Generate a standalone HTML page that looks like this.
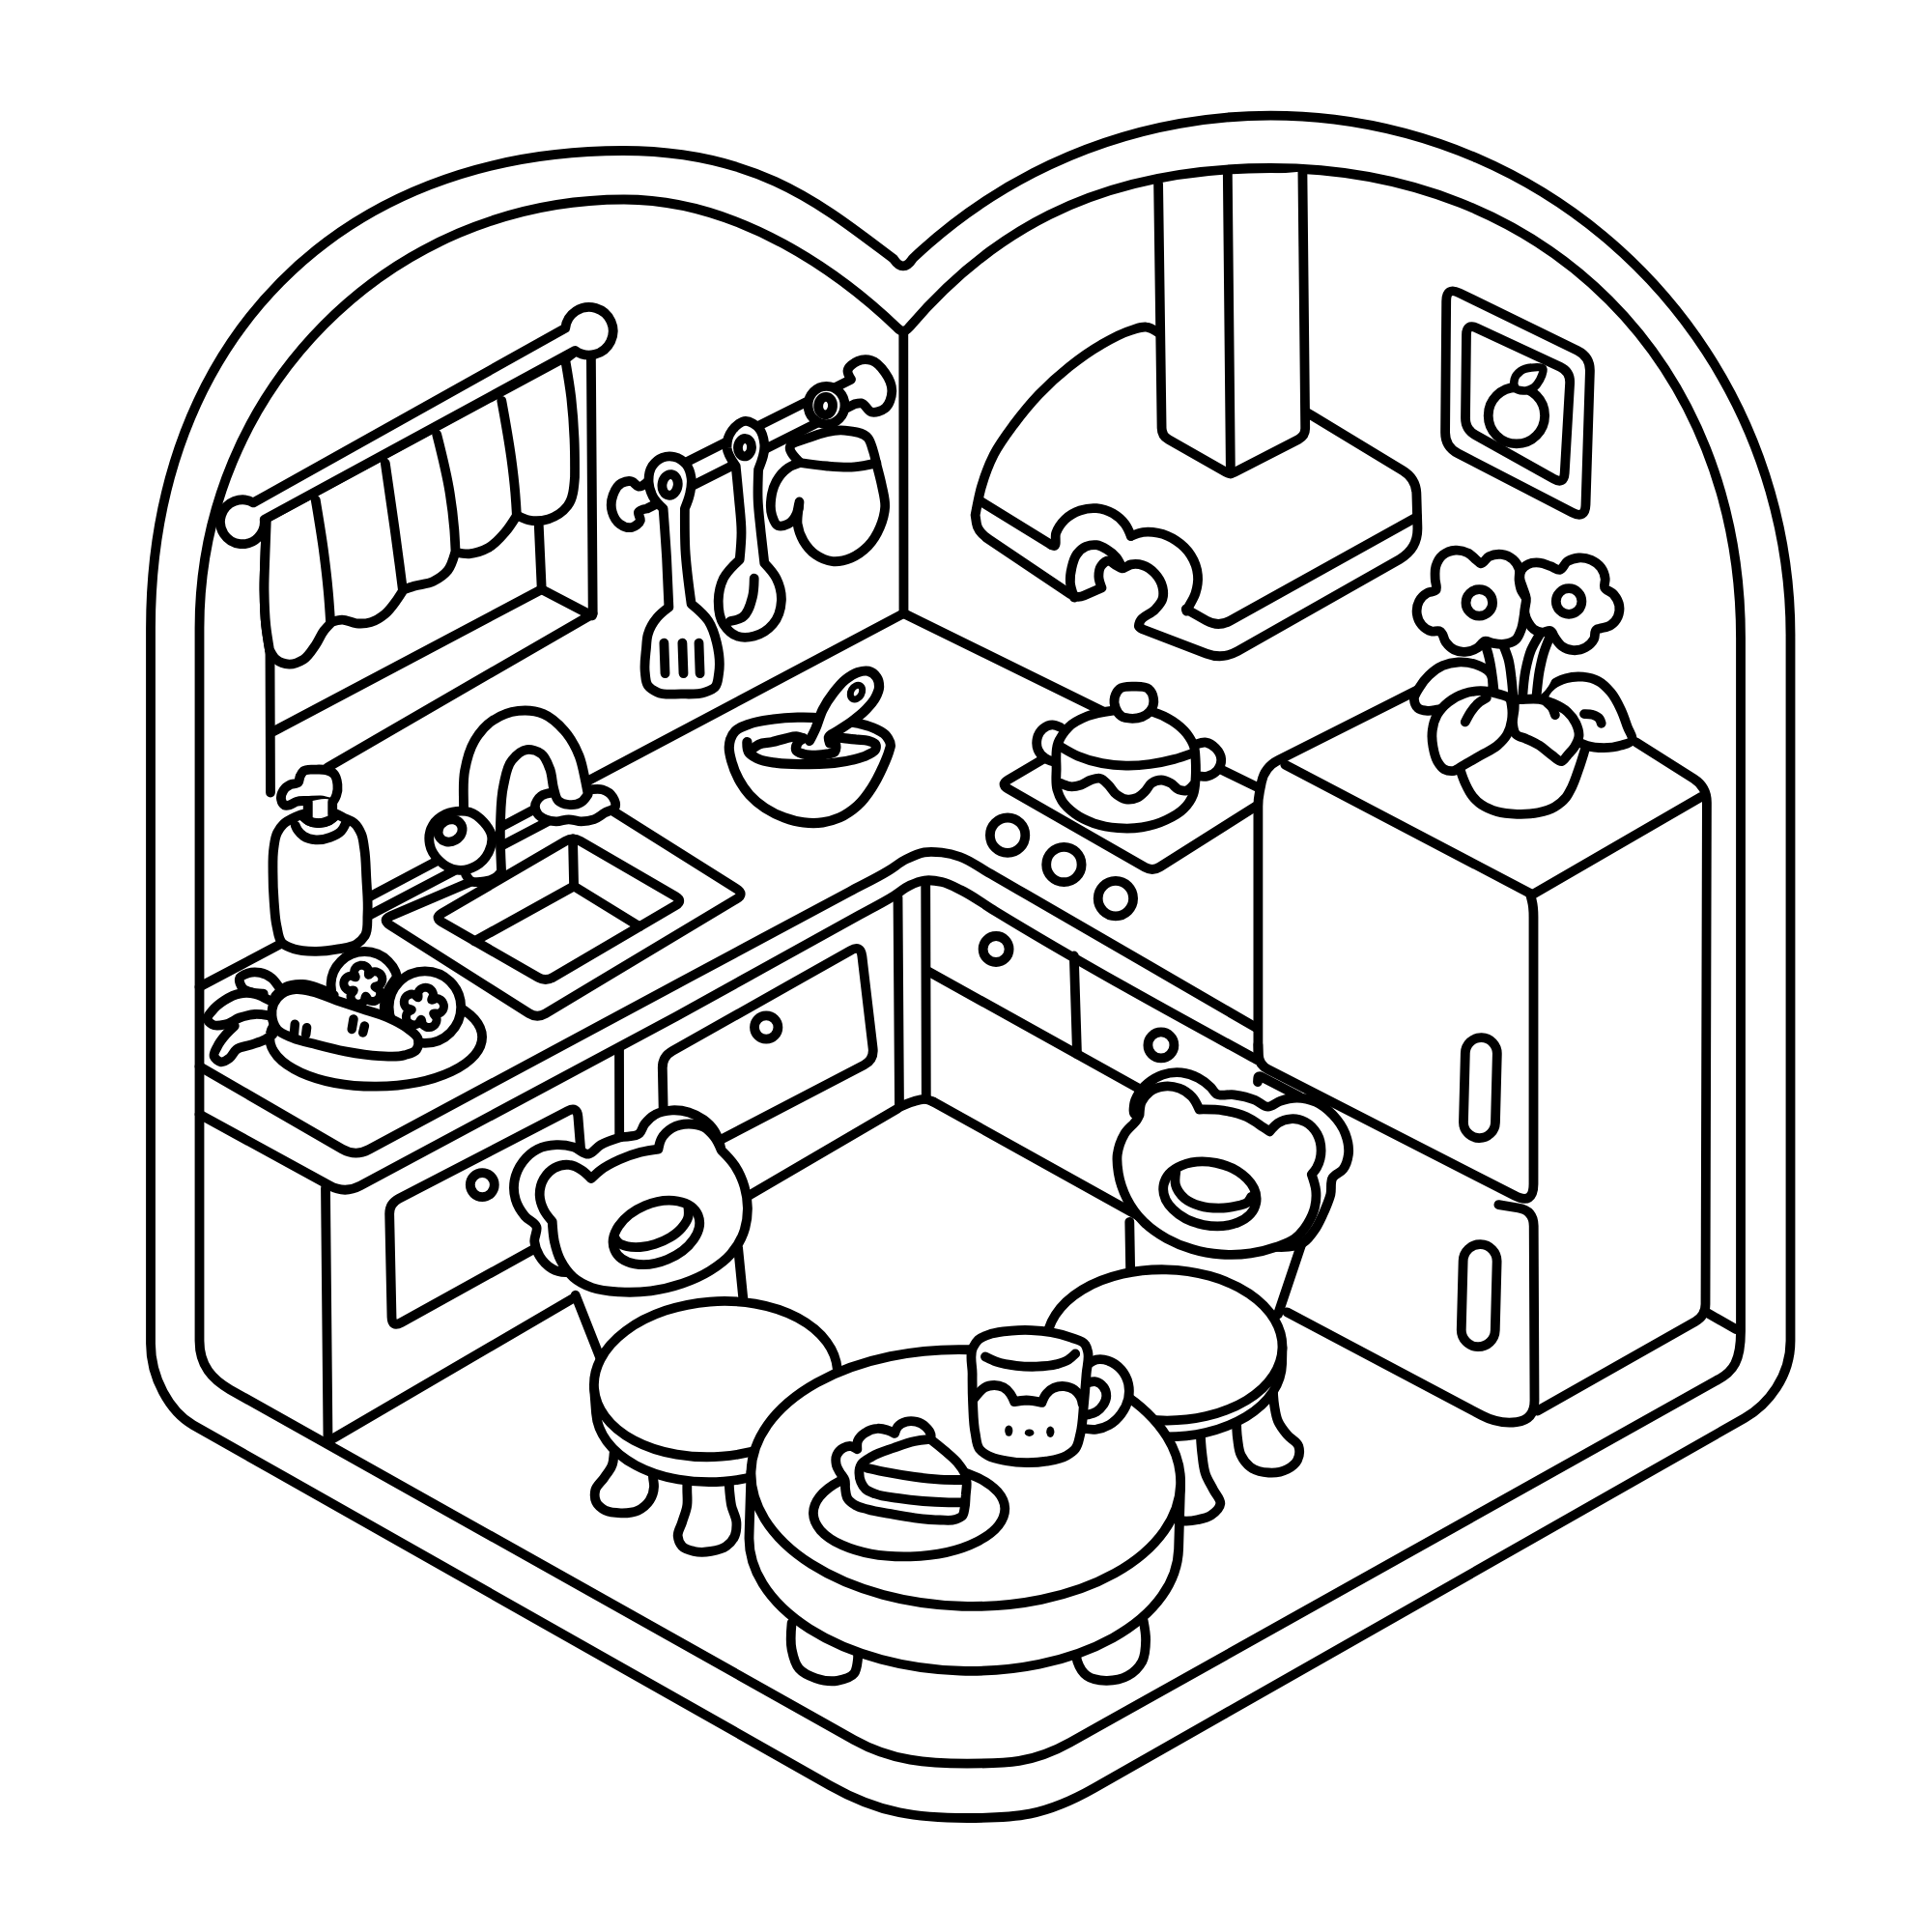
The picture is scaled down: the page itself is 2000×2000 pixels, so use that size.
<!DOCTYPE html>
<html><head><meta charset="utf-8"><title>Kitchen coloring page</title>
<style>html,body{margin:0;padding:0;background:#fff;}svg{display:block;}</style></head>
<body>
<svg xmlns="http://www.w3.org/2000/svg" width="2000" height="2000" viewBox="0 0 2000 2000">
<rect width="2000" height="2000" fill="#fff"/>
<g fill="none" stroke="#000" stroke-linecap="round" stroke-linejoin="round">
<path d="M156 650C156 353.6 351.6 156 645 156C785 156 853 214 925 268Q935 283 945 267.5A538 538 0 0 1 1853.5 660.5L1853.5 1388C1853.5 1425 1830.3 1454.2 1806 1468L1132.7 1851C1080.5 1880.7 1051 1882 1001 1882C951 1882 911.6 1878 859.4 1848.4L200 1475.2C175.6 1461.4 156 1426 156 1391Z" fill="#fff" stroke-width="9.8"/>
<path d="M206.5 650C206.5 405 403.3 206.5 646 206.5C766 206.5 871.4 284.3 929 339.5Q935.3 346 941 339C1019 247.8 1125.5 174 1315.5 174C1600.1 174 1802 375.9 1802 660.5L1802 1378C1802 1408 1795 1420 1777 1429L1107.8 1803.7C1068.6 1825.7 1041 1825.6 1001 1825.6C961 1825.6 923.4 1823.2 884.2 1801.2L238 1438.4C220 1428 206.5 1414 206.5 1388Z" fill="#fff" stroke-width="9.8"/>
<path d="M935.3 345L935.5 635" fill="none" stroke-width="9.8"/>
<path d="M935.5 635L206.5 1021.7" fill="none" stroke-width="9.8"/>
<path d="M935.5 635L1300 814.2" fill="none" stroke-width="9.8"/>
<path d="M275.8 538.5C275.3 550.1 274.9 561.7 274.5 573.3C274.1 585.7 273.4 598.1 273.5 610.6C273.7 623 273.9 635.5 275.3 647.8C276.2 656.1 277.6 664.4 279 672.7L279.5 677.6L280 820.5" fill="none" stroke-width="9.8"/>
<path d="M611.9 370.8L613.7 634.2" fill="none" stroke-width="9.8"/>
<path d="M557.8 544.7L560.7 609.3" fill="none" stroke-width="9.8"/>
<path d="M560.7 610.1L612.9 637.4" fill="none" stroke-width="9.8"/>
<path d="M560.7 610.1L283.2 757.1" fill="none" stroke-width="9.8"/>
<path d="M613.7 635.4L339.1 794.4" fill="none" stroke-width="9.8"/>
<path d="M274.5 537.3L593.8 365.1L585.1 372C587.4 385.3 589.7 398.5 591.3 411.8C592.9 425.8 593.9 439.9 594.5 454C595.1 467.3 595.1 480.5 595 493.8L595 493.8C594.2 504.9 593.4 516 587.6 523.6C583 529.6 575.1 534.9 567.7 537.3C561.6 539.2 554.2 539.8 547.8 538.5C543.6 537.6 539.5 535.6 535.4 533.5L534.2 534.8C530.7 540.4 527.2 546 523 550.9C517.9 556.9 512.3 563.3 505.6 567.1C499.7 570.4 492.5 572.8 485.7 573.3C481.2 573.6 476.6 572.8 472 572L470.8 573.3C469 579.6 467.1 585.9 463.4 590.7C459.6 595.4 453.9 599.2 448.4 601.9C442.4 604.8 435.1 604.9 428.6 606.8C424.8 608 421.1 609.3 417.4 610.6L417.4 611.1C415.4 614.2 413.4 617.4 411.2 620.5C407.4 625.7 403.7 631.3 398.8 635.4C394.4 639 389.2 642.5 383.9 644.1C379.2 645.5 373.8 645.7 368.9 645.3C363.9 644.9 359 641.5 354 641.6C350.3 641.7 346.6 642.9 342.9 644.1L342.9 644.6C340.3 647.2 337.6 649.9 335.4 652.8C331.9 657.3 330 663 326.7 667.7C323 673 319.5 679.3 314.3 682.6C310 685.3 304.3 687.7 299.4 687.6C294.8 687.5 289.3 685.6 285.7 682.6C282.8 680.2 280.9 676.4 279 672.7L279 672.7C277.6 664.4 276.2 656.1 275.3 647.8C273.9 635.5 273.7 623 273.5 610.6C273.4 598.1 274.1 585.7 274.5 573.3C274.9 561.7 275.3 550.1 275.8 538.5Z" fill="#fff" stroke-width="9.8"/>
<path d="M326.7 517.4C329.8 536 333 554.6 335.4 573.3C337 585.7 338.5 598.1 339.6 610.6C340.7 621.7 341.4 632.9 342.1 644.1" fill="none" stroke-width="9.8"/>
<path d="M398.8 479.4C402.1 502.4 405.5 525.4 408.7 548.4C410.4 560.9 412 573.3 413.7 585.7C414.8 594 415.8 602.3 416.9 610.6" fill="none" stroke-width="9.8"/>
<path d="M452.2 449.8C457.4 470.2 462.6 490.5 465.8 511.2C467.8 523.5 469.3 536 470.3 548.4C470.9 556.3 471.2 564.2 471.6 572" fill="none" stroke-width="9.8"/>
<path d="M519.3 414.8C522.9 434.4 526.5 454.1 529.2 473.9C530.9 486.3 532.4 498.7 533.4 511.2C534 518.6 534.5 526.1 534.9 533.5" fill="none" stroke-width="9.8"/>
<path d="M262.3 520.4A22.9 22.9 0 1 0 273.7 537.8L595.4 362.9A24.8 24.8 0 1 0 585.2 339.8Z" fill="#fff" stroke-width="9.8"/>
<path d="M670.7 498.4L881 392.8L881 392.8C879.2 389.7 877.3 386.6 877.5 384C877.8 379.9 883.8 375.6 888.1 373.8C892.1 372.1 898 371.9 902.1 373.1C907.8 374.7 912.7 380.7 916.2 385.8C920 391.2 923.5 398.7 923.3 405.1C923.1 411 920.7 419.2 916.2 422.7C912.8 425.4 906.3 427.6 902.1 426.6C898.1 425.6 895.8 418.1 891.6 417.4C889.4 417.1 887 417.7 884.5 418.3L884.5 418.3L669.8 526.5L669.8 526.5C666 527.2 662.1 527.9 661 530.1C660 532.1 663.5 536.4 662.8 538.9C661.9 542 657.2 545.1 654 545.9C650.3 546.8 644.9 544.7 641.7 542.4C637.9 539.7 635.1 534.5 633.8 530.1C632.2 524.7 632.7 517.7 634.6 512.5C636.3 507.9 639.3 502.3 643.4 500.1C646.4 498.6 650.8 497.5 654 498.4C656.6 499.1 658.6 503.3 661 503.7C664.1 504.1 667.4 501.2 670.7 498.4Z" fill="#fff" stroke-width="9.8"/>
<path d="M686.6 526.5C682.5 522.7 678.5 518.9 676 514.2C673.6 509.7 671.9 504.3 671.6 499.3C671.3 493.7 672.2 487.1 675.1 482.5C677.5 478.9 681.6 475.3 685.7 473.7C689.3 472.3 694.2 472 698 472.9C702.5 473.9 707.4 477.2 710.3 480.8C713.3 484.5 714.9 490 715.6 494.9C716.4 500.5 715.2 506.8 713.8 512.5C712.7 517.3 710.8 521.9 708.9 526.5L708.9 526.5C708.8 540.6 708.7 554.7 709.4 568.8C710.4 587.6 713 606.4 715.6 625.1L715.6 625.1C722.2 630.5 728.8 635.9 733.2 642.7C737.5 649.4 740.1 657.7 742 665.6C744.4 675.7 745.8 686.9 744.1 697.2C743.3 702 743.2 708 740.2 711.3C737.8 714 733.3 715.3 729.7 716.6C722 719.3 713.2 718.4 705 718.4C696.8 718.4 687.6 720.1 680.4 716.6C676.9 714.9 672.9 712.6 670.7 709.6C668.1 705.9 668.3 700.2 667.7 695.5C666.8 687.4 668.2 679 669 670.8C669.4 666.1 669.4 661.2 670.7 656.8C672.5 650.4 676.2 644.2 680.4 639.2C683.8 635.1 688.1 631.9 692.4 628.6L692.4 628.6C691.7 611.6 691 594.6 690.1 577.6C689.1 560.6 687.8 543.5 686.6 526.5Z" fill="#fff" stroke-width="9.8"/>
<ellipse cx="693.6" cy="501.9" rx="8.1" ry="10.9" transform="rotate(8 693.6 501.9)" fill="none" stroke-width="9.8"/>
<path d="M687.4 665.6L688.5 697.2" fill="none" stroke-width="9.8"/>
<path d="M706.4 665.6L707.5 697.2" fill="none" stroke-width="9.8"/>
<path d="M723.5 665.6L724.6 697.2" fill="none" stroke-width="9.8"/>
<path d="M761.7 482.5C757.3 476.2 752.9 469.8 752.5 463.2C752.3 457.5 754.4 450.2 757.8 445.6C761 441.3 767.1 436 771.9 435.9C776.5 435.8 782.8 440 786 443.8C789.3 447.8 790.7 454.3 791.3 459.7C792.2 468.3 788.7 477.2 785.1 486.1L785.1 486.1C784.7 496 784.3 506 784.6 516C784.9 527.7 786.6 539.5 787.7 551.2C788.8 561.7 790 572.3 791.3 582.9L791.3 582.9C796 587.9 800.7 592.8 803.6 598.7C807 605.5 809.2 614.1 808.9 621.6C808.5 629.9 805.4 639.9 800.1 646.2C795.4 651.8 787.8 656.7 780.7 658.5C775.2 659.9 768.3 660.4 763.1 658.5C757.6 656.5 752.3 651.2 749 646.2C744.6 639.5 743.6 629.8 743.7 621.6C743.9 613.9 745.7 605.5 749 598.7C752.7 591.3 759.2 585.3 765.7 579.3L765.7 579.3C766.6 569.9 767.5 560.6 767.5 551.2C767.5 539.4 765.9 527.7 764.9 516C763.9 504.8 762.8 493.7 761.7 482.5Z" fill="#fff" stroke-width="9.8"/>
<ellipse cx="771" cy="463.2" rx="7" ry="9.2" transform="rotate(5 771 463.2)" fill="none" stroke-width="9.8"/>
<path d="M780.7 598.7C780.6 605.3 780.6 611.9 778.9 618.1C777 625.5 774.5 635.2 768.4 639.2C765.1 641.4 760.6 642.2 756.1 643" fill="none" stroke-width="9.8"/>
<ellipse cx="855.5" cy="419.5" rx="19" ry="19.7" transform="rotate(0 855.5 419.5)" fill="#fff" stroke-width="9.8"/>
<ellipse cx="854.6" cy="420.1" rx="7.4" ry="9.2" transform="rotate(5 854.6 420.1)" fill="none" stroke-width="9.8"/>
<path d="M828.2 479C823.9 480.5 819.5 481.9 815.9 484.3C810.8 487.7 806.5 493 803.6 498.4C800.7 503.6 799 510 798.3 516C797.6 521.7 797.3 528.2 799.2 533.6C800.5 537.3 802.2 542.9 805.3 544.1C808.1 545.3 812.9 543.9 815.9 542.4C819.7 540.4 822.9 535.9 824.7 531.8C825.9 529.1 826.4 524.1 826.8 523C827.7 520.8 824.7 536.1 825.6 542.4C826.4 548.4 828.7 554.7 831.7 560C834.8 565.3 839.1 570.5 844.1 574.1C849.1 577.6 855.6 580.5 861.7 581.1C867.9 581.8 875.1 580 881 577.6C887.5 574.9 893.7 570.3 898.6 565.3C903.8 559.9 908 552.8 910.9 545.9C913.7 539.3 915.8 531.9 916.2 524.8C916.6 517.2 914.2 509.5 912.7 501.9C911.2 494.8 909.3 487.8 907.4 480.8L907.4 480.8C906.4 476 905.4 471.3 903.9 466.7C902.4 462.2 901.3 456.9 898.6 453.5C893.6 447.4 882.3 446.4 874 445.6C862.4 444.4 849.9 448.5 838.8 452.6C831.5 455.4 818.4 458 817.7 463.2C817.1 467.4 822.6 473.2 828.2 479Z" fill="#fff" stroke-width="9.8"/>
<path d="M828.2 479C837.6 480.4 847 481.8 856.4 482.5C865.7 483.3 875.2 484.2 884.5 483.4C892.2 482.8 899.8 481.1 907.4 479.4" fill="none" stroke-width="9.8"/>
<path d="M827.5 519.5L826.8 526.5" fill="none" stroke-width="9.8"/>
<path d="M1010.7 527.5C1012.2 519.7 1013.7 511.8 1015.9 504.2C1019.2 492.7 1023.4 481.2 1028.8 470.6C1034.5 459.6 1042.1 449.5 1049.5 439.5C1057.6 428.7 1066.1 418.2 1075.4 408.4C1085.1 398.3 1095.5 388.7 1106.5 380C1117.1 371.5 1128.3 363.4 1140.1 356.7C1150 351 1160.2 345.1 1171.2 341.9C1176.2 340.5 1181.7 337.9 1186.7 338.6C1191 339.1 1195 341.7 1199.1 344.3L1199.1 344.3L1345.3 422.8Q1352.3 426.6 1359.1 430.7L1452.3 487.2Q1466 495.5 1466.4 511.5L1467.4 546Q1468 568 1448.9 578.9L1281.3 674.1Q1265.6 683 1248.8 676.6L1183.2 651.5C1181.3 650.6 1179.4 649.8 1178.9 648.4C1178.4 647.1 1179.5 645 1180.1 643.4C1182.5 637.5 1191.3 635.9 1195.7 631C1198.6 627.7 1202.2 624.2 1203.4 620.1C1204.6 616.4 1204.3 611.6 1203.4 607.7C1202.3 602.7 1199.2 597.5 1195.7 593.7C1192.3 590.1 1187.8 586.6 1183.2 585.2C1179.4 584 1174.8 583.6 1170.8 584.4C1167.6 585 1164.5 588.7 1161.5 588.3C1159.4 588 1157.3 586.3 1155.3 585.2C1152.6 583.7 1150 580.5 1147.5 580.5C1144.9 580.6 1141.5 583.6 1139.8 586C1137.8 588.8 1137.4 593.2 1137.4 596.8C1137.5 600.7 1139 604.6 1140.5 608.5L1140.5 608.5L1122.2 616.5Q1114.9 619.7 1108.3 615.2L1023.7 558.4Q1012.1 550.6 1010.9 541.9L1009.6 533.2Z" fill="#fff" stroke-width="9.8"/>
<path d="M1467 535L1273.4 642.6Q1261.2 649.4 1249 642.5L1227.8 630.4" fill="none" stroke-width="9.8"/>
<path d="M1015.5 519.2L1088.5 564.2" fill="none" stroke-width="9.8"/>
<path d="M1088.5 564.2C1089.3 564.6 1090.2 564.9 1090.8 565C1094.5 565.5 1091.6 555.9 1093.2 551.8C1095.1 546.7 1098.6 541.6 1102.5 537.8C1106.7 533.7 1112.4 530.4 1118 528.5C1123.3 526.7 1129.5 525.7 1135.1 526.2C1140.9 526.7 1147.1 528.7 1152.2 531.6C1156.8 534.3 1161.4 538.2 1164.6 542.5C1167.3 546.1 1169.1 550.5 1170.8 554.9" fill="none" stroke-width="9.8"/>
<path d="M1170.8 554.9C1174.9 553.3 1179 551.6 1183.2 551C1188.3 550.3 1193.8 550.8 1198.8 551.8C1205.3 553.1 1211.9 555.9 1217.4 559.6C1223.4 563.5 1229.2 569 1232.9 575.1C1236.6 581 1239.3 588.4 1239.9 595.3C1240.5 601.4 1239.4 608 1237.6 613.9C1235.9 619.4 1232.4 624.3 1229.8 629.4C1229.3 630.5 1228.8 631.5 1228.3 632.5" fill="none" stroke-width="9.8"/>
<path d="M1112.1 618.6C1110.2 613.4 1108.3 608.3 1107.9 603C1107.5 597.9 1108.3 592.5 1109.5 587.5C1110.6 582.7 1112 577.4 1114.9 573.5C1117.3 570.4 1120.6 567.3 1124.2 565.8C1127.5 564.4 1131.6 563.8 1135.1 564.2C1138.9 564.7 1142.6 566.8 1146 568.9C1149.4 571 1152.7 573.6 1155.3 576.6C1157.9 579.8 1159.7 583.7 1161.5 587.5" fill="none" stroke-width="9.8"/>
<path d="M1199.1 190.5L1202.6 443.1Q1202.7 451.1 1209.7 455.1L1269 488.8Q1273.4 491.3 1277.8 489L1344.2 454.8Q1351.3 451.1 1351.2 443.1L1348.4 177.6Z" fill="#fff" stroke="none"/>
<path d="M1199.1 190.5L1202.6 443.1Q1202.7 451.1 1209.7 455.1L1269 488.8Q1273.4 491.3 1277.8 489L1344.2 454.8Q1351.3 451.1 1351.2 443.1L1348.4 177.6" fill="none" stroke-width="9.8"/>
<path d="M1270.8 178.6L1273.9 490.5" fill="none" stroke-width="9.8"/>
<path d="M1497.2 311.7Q1497.3 296.7 1510.8 303.3L1632.9 362.8Q1646.3 369.4 1645.9 384.4L1641.5 522.5Q1641 537.5 1627.7 530.6L1509.3 469.4Q1496 462.5 1496.1 447.5Z" fill="none" stroke-width="9.8"/>
<path d="M1518 346.6Q1518.1 334.6 1529 339.7L1615 379.8Q1625.8 384.9 1625.1 396.9L1619.7 489.7Q1619 501.7 1608.5 495.8L1527.4 450.4Q1516.9 444.5 1517 432.5Z" fill="none" stroke-width="9.8"/>
<circle cx="1569.9" cy="430.2" r="29.2" fill="none" stroke-width="9.8"/>
<path d="M1568.7 401.7C1567.1 399.6 1567.1 395.2 1567.8 392.4C1568.7 389.2 1571.6 386 1574.3 384C1577.3 381.9 1581.7 381 1585.5 380.6C1589.3 380.1 1595.8 379.5 1597.3 381.6C1598.7 383.6 1595.9 389.5 1594.2 393C1592.6 395.9 1590.6 399.1 1588 401.1C1585.5 402.8 1582.2 404.2 1579.3 404.4C1575.8 404.7 1570.5 404 1568.7 401.7Z" fill="#fff" stroke-width="8.5"/>
<path d="M206.5 1104L354.2 1189.5Q368 1197.5 382.1 1189.9L700 1019.1C760 987 820 954.8 880 922.7C893.2 915.6 906.8 909.3 919.5 901.5C925.8 897.7 931.5 892.8 938 889.5C944 886.5 950.3 883.4 956.8 882.3C962.7 881.3 969 881.8 975 882.5C981.4 883.3 987.8 884.9 993.8 887C1004.2 890.6 1013.3 897.7 1023 903.2C1035.4 910.2 1047.7 917.4 1060 924.6C1140.7 971.2 1221.4 1018 1302 1064.8" fill="none" stroke-width="9.8"/>
<path d="M206.5 1153.5L341.2 1227.3Q357 1236 372.9 1227.5L700 1052.2C763.4 1017.2 826.7 982.2 890 947C901.7 940.6 913.7 934.6 925 927.6C930.8 924 935.9 919.3 942 916.5C946.7 914.3 951.9 912.2 957 911.5C962.8 910.7 969.2 911.7 975 913C982 914.6 988.5 918.3 995 921.5C1007.3 927.5 1018.3 935.9 1030 943.1C1119 997.4 1210.5 1047.4 1302 1097.5" fill="none" stroke-width="9.8"/>
<path d="M337 1230L339.5 1491" fill="none" stroke-width="9.8"/>
<path d="M339.5 1492.3L929 1147.8" fill="none" stroke-width="9.8"/>
<path d="M965.8 1140.4L1300 1326.4" fill="none" stroke-width="9.8"/>
<path d="M929.5 929L931 1146" fill="none" stroke-width="9.8"/>
<path d="M958.2 913L958.8 1138" fill="none" stroke-width="9.8"/>
<path d="M931 1146C935.6 1143.9 940.2 1141.8 945 1140.5C949.5 1139.2 954.3 1137.3 958.8 1138C961.2 1138.4 963.5 1139.4 965.8 1140.4" fill="none" stroke-width="9.8"/>
<path d="M403.2 1257Q403 1246 412.8 1240.9L587.7 1150.1Q597.5 1145 598.4 1156L606.1 1252Q607 1263 597.4 1268.3L415.3 1369.1Q405.7 1374.4 405.5 1363.4Z" fill="none" stroke-width="9.8"/>
<circle cx="499.3" cy="1226.6" r="12.5" fill="none" stroke-width="9.8"/>
<path d="M685.8 1106Q685.5 1094 696 1088.1L880.5 983.9Q891 978 892.4 989.9L903.6 1085.1Q905 1097 894.4 1102.5L698.6 1204.5Q688 1210 687.7 1198Z" fill="none" stroke-width="9.8"/>
<circle cx="793.2" cy="1063.5" r="12.2" fill="none" stroke-width="9.8"/>
<path d="M641 1084.9L641.5 1314.8" fill="none" stroke-width="9.8"/>
<path d="M959 1004.5L1300 1194.3" fill="none" stroke-width="9.8"/>
<path d="M1111.8 989.5L1115 1091.3" fill="none" stroke-width="9.8"/>
<circle cx="1031.1" cy="982.5" r="13.5" fill="none" stroke-width="9.8"/>
<circle cx="1201.9" cy="1081.9" r="13.5" fill="none" stroke-width="9.8"/>
<path d="M494 910L404.4 948.3Q395.2 952.2 403.6 957.6L547.6 1049Q556.1 1054.3 564.7 1049.2L762.4 930.6Q771 925.5 762.5 920.2L632 838" fill="none" stroke-width="9.8"/>
<path d="M457.4 954.5Q449.6 950 457.3 945.5L585.3 870.8Q593 866.3 600.8 870.8L699.4 928.1Q707.2 932.6 699.4 937.2L572.5 1011.7Q564.8 1016.3 557 1011.8Z" fill="none" stroke-width="9.8"/>
<path d="M593 868.5L594.1 917.4" fill="none" stroke-width="9.8"/>
<path d="M594.1 917.4L491.3 974.3" fill="none" stroke-width="9.8"/>
<path d="M594.1 917.4L662 959.1" fill="none" stroke-width="9.8"/>
<path d="M1152.4 743.1L1043.4 807.4Q1035.6 812 1043.4 816.5L1185.2 897.8Q1193 902.3 1200.6 897.5L1304.8 831.6" fill="none" stroke-width="9.8"/>
<circle cx="1043.1" cy="864.7" r="18.2" fill="none" stroke-width="9.8"/>
<circle cx="1101.4" cy="895" r="18.2" fill="none" stroke-width="9.8"/>
<circle cx="1154.9" cy="930.1" r="18.2" fill="none" stroke-width="9.8"/>
<path d="M383 947.1L566 851" fill="none" stroke-width="9.8"/>
<path d="M293.3 853.2C290.8 855.6 288.7 858.7 287.1 861.9C284.6 866.7 284.2 872.6 283.4 878C282.1 886.2 282.5 894.6 282.5 902.9C282.5 913.2 282.9 923.6 283.7 933.9C284.4 942.2 284.6 950.7 286.5 958.8C287.8 964.7 288.2 972.1 292 976.1C295 979.2 300.2 980.9 304.5 982.4C311.1 984.6 318.5 984.7 325.6 984.8C333.9 985 342.3 983.9 350.4 982.4C356.7 981.1 363.9 980.8 369.1 977.4C372.4 975.2 375.7 972 377.8 968.7C381.5 962.6 380 953.8 380.5 946.3C381.3 934 379.9 921.5 379.3 909.1C378.7 898.7 378.8 888.2 377.1 878C376.3 873 376 867.7 374 863.1C372.3 859.1 369.9 854.7 366.6 851.9C363.8 849.6 360 848.6 356.6 847C353.3 845.3 350.2 843.1 346.7 842C342 840.5 336.8 840.7 331.8 840.7C326.8 840.7 321.7 840.9 316.9 842C313.1 842.8 309.3 844.1 305.7 845.7C301.3 847.7 296.7 849.9 293.3 853.2Z" fill="#fff" stroke-width="9.8"/>
<path d="M305.7 854.4C306.4 856.1 307.2 857.9 308.2 859.4C309.8 861.8 312 864 314.4 865.6C317.9 867.9 322.6 869 326.8 869.3C331.7 869.7 337.1 868.5 341.7 866.8C345.7 865.4 350 863.6 352.9 860.6C355.2 858.3 356.7 855.1 358.1 851.9" fill="none" stroke-width="9.8"/>
<path d="M314.4 845.7C316 847.2 317.6 848.7 319.4 849.7C322.3 851.3 326 852.1 329.3 852.2C333 852.3 337.2 851.4 340.5 849.7C342.7 848.5 344.7 846.8 346.7 845.1" fill="#fff" stroke-width="9.8"/>
<path d="M294.5 833.5C292.8 832.7 291.5 829.8 291.1 827.7C290.4 824.8 291.7 821 293.3 818.4C294.9 815.8 297.9 813.6 300.7 812.2C303.2 810.9 307.2 811.8 308.8 809.9C310.1 808.5 309.7 805.5 310.7 803.5C311.6 801.5 312.8 799.4 314.4 798.1C317.1 796 321.8 796.8 325.6 796.6C329.7 796.5 334.1 796.1 338 797.3C340.7 798.1 343.8 799.3 345.7 801.2C348.2 803.8 349 808.4 349.4 812.2C349.8 815.8 349.5 819.9 348.2 823.4C347.4 825.5 346.2 828.3 344.6 829.6C341.7 831.8 336.1 828.4 331.8 828.3C327.3 828.2 322.7 828.7 318.1 828.9C314.4 829.2 310.4 828.7 307 829.8C304.6 830.6 302.6 832.7 300.1 833.3C298.3 833.7 296 834.2 294.5 833.5Z" fill="#fff" stroke-width="9.8"/>
<path d="M318.8 829.6L318.8 847" fill="none" stroke-width="9.8"/>
<path d="M318.8 830.2C330.1 827.4 341.3 824.6 344.2 830.2C345.7 833.1 346.4 840.7 344.2 843.2C342.1 845.7 336 845.1 331.8 845.7C327.5 846.4 323.1 846.7 318.8 847Z" fill="#fff" stroke="none"/>
<path d="M318.8 829.9L318.8 847" fill="none" stroke-width="9.8"/>
<path d="M344.2 829.9L344.2 843" fill="none" stroke-width="9.8"/>
<path d="M314.4 845.7C316 847.2 317.6 848.7 319.4 849.7C322.3 851.3 326 852.1 329.3 852.2C333 852.3 337.2 851.4 340.5 849.7C342.7 848.5 344.7 846.8 346.7 845.1" fill="none" stroke-width="9.8"/>
<path d="M553.9 834.8C553.9 830.9 557.3 826.3 560.4 823.9C563.3 821.8 567.6 821.2 571.3 820.7C577 819.8 582.9 822 588.7 821.7C596 821.4 603.1 817.9 610.4 817.4C614.8 817.1 619.5 816.2 623.5 817.4C627.5 818.6 632.1 821.5 634.3 825C636 827.7 637.7 832.2 637 834.8C636 838.2 629.4 839.4 625.7 841.7C622 843.9 618.7 846.8 614.8 848.3C610.7 849.8 606.1 850.4 601.7 850.4C597.4 850.4 593 848.3 588.7 848.3C584.3 848.3 580 850.6 575.7 850.4C572 850.3 568.1 849.7 564.8 848.3C561.6 846.8 557.9 844.7 556.1 841.7C554.9 839.8 553.9 837 553.9 834.8Z" fill="#fff" stroke-width="9.8"/>
<path d="M482.2 905.4C481.5 894.9 480.8 884.4 480.4 873.9C480 860.9 479.9 847.8 480 834.8C480.1 822.5 478.9 809.8 481.1 797.8C483 787.4 485.6 776.4 490.9 767.4C495.7 759.2 502.6 750.9 510.4 745.7C517.9 740.6 527.6 736.9 536.5 735.9C545 734.9 554.8 735.9 562.6 739.1C570.9 742.5 578.3 749.7 584.3 756.5C590.9 764 595.9 773.3 599.6 782.6C602.8 790.9 604.2 799.9 606.1 808.7C607 813.2 607.9 817.7 608.7 822.2L608.7 822.2C606.6 825.4 604.6 828.6 601.7 830.4C598.2 832.7 592.9 833.5 588.7 833C585 832.6 580.4 831.2 577.8 828.7C575.2 826.1 574.7 821.2 573.5 817.4C571.3 810.4 571.8 802.4 569.1 795.7C567 790.3 564.8 783.7 560.4 780.4C556.5 777.5 549.9 775.5 545.2 776.1C539.6 776.8 533.8 782.4 530 787C524.4 793.6 523.3 804.2 521.3 813C518.4 825.7 518.5 839.1 518 852.2C517.4 868.8 518.3 885.5 519.1 902.2L519.1 902.2C517.8 903.9 516.4 905.6 514.8 907C511.2 909.9 506.3 911.6 501.7 912.4C496.9 913.2 490.2 914.2 486.5 911.3C484.8 909.9 483.5 907.7 482.2 905.4Z" fill="#fff" stroke-width="9.8"/>
<path d="M478 839.7C480.8 839.8 483.7 840 486.3 840.7C491.8 842.3 496.9 846.8 500.7 851.1C504.3 855.1 508.1 860.4 509 865.5C509.9 870.7 508.2 877.2 505.9 882.1C503.2 887.8 498 893.5 492.5 896.6C487.2 899.6 479.8 901.3 473.8 900.7C466.9 900 459.2 895.4 454.2 890.4C449.9 886.1 445.9 879.7 444.8 873.8C443.7 867.7 444.8 859.5 448 854.2C450.8 849.5 456.3 845.2 461.4 842.8C466.3 840.5 472.4 839.6 478 839.7Z" fill="#fff" stroke-width="9.8"/>
<ellipse cx="466.1" cy="859.9" rx="12.9" ry="11.2" transform="rotate(-30 466.1 859.9)" fill="none" stroke-width="9.8"/>
<ellipse cx="389.2" cy="1074.3" rx="109.9" ry="50.3" transform="rotate(-0.4 389.2 1074.3)" fill="#fff" stroke-width="9.8"/>
<circle cx="377.4" cy="1019.8" r="34.8" fill="#fff" stroke-width="9.8"/>
<circle cx="439.9" cy="1042.6" r="37.3" fill="#fff" stroke-width="9.8"/>
<path d="M410 1012.7C406.1 1017.8 402.3 1022.8 400.3 1028.6C398.4 1034 397.3 1040.4 398 1046.1C398.6 1050.3 400.3 1054.4 402.1 1058.5" fill="none" stroke-width="9.8"/>
<path d="M372.9 999.3C374 999.1 375.2 999.2 376.2 999.4C377.2 999.7 378.3 1000.2 379.2 1000.9C380.1 1001.6 381 1002.7 381.4 1003.7C382.2 1005.3 380.8 1008.9 381.6 1009.3C382.4 1009.7 384.4 1006.4 386.2 1006C387.3 1005.8 388.6 1005.8 389.8 1006C390.8 1006.3 391.9 1006.8 392.8 1007.5C393.6 1008.2 394.4 1009.1 394.9 1010C395.4 1010.9 395.7 1012.1 395.8 1013.1C395.9 1014.2 395.7 1015.4 395.3 1016.4C394.9 1017.5 394.1 1018.7 393.3 1019.5C392 1020.7 388.2 1020.5 388 1021.4C387.9 1022.2 391.6 1023.1 392.6 1024.7C393.2 1025.6 393.6 1026.9 393.7 1028.1C393.7 1029.2 393.6 1030.4 393.2 1031.4C392.8 1032.4 392.2 1033.4 391.5 1034.2C390.7 1034.9 389.8 1035.6 388.8 1036C387.8 1036.4 386.6 1036.6 385.5 1036.6C384.3 1036.5 383 1036.2 382 1035.6C380.5 1034.7 379.4 1031 378.6 1031.2C377.7 1031.3 378 1035.2 376.8 1036.5C376.1 1037.4 375 1038.2 373.9 1038.6C372.9 1039 371.7 1039.2 370.6 1039.2C369.5 1039.2 368.4 1038.9 367.4 1038.4C366.5 1038 365.6 1037.2 364.9 1036.4C364.2 1035.6 363.6 1034.5 363.3 1033.5C363 1032.3 362.9 1031 363.2 1029.8C363.5 1028.1 366.7 1026 366.3 1025.2C365.9 1024.4 362.3 1025.9 360.7 1025.2C359.6 1024.8 358.5 1024 357.8 1023.1C357.1 1022.2 356.5 1021.2 356.2 1020.1C355.9 1019.1 355.8 1017.9 356 1016.9C356.1 1015.8 356.5 1014.7 357.1 1013.8C357.7 1012.9 358.5 1012 359.4 1011.4C360.4 1010.7 361.7 1010.3 362.8 1010.1C364.6 1009.9 367.6 1012.3 368.2 1011.7C368.8 1011.1 366.3 1008.1 366.5 1006.4C366.5 1005.2 367 1003.9 367.6 1002.9C368.2 1002 369 1001.1 369.9 1000.5C370.8 999.9 371.9 999.5 372.9 999.3Z" fill="none" stroke-width="9"/>
<path d="M441.9 1022.4C442.9 1022.6 444.1 1023 445 1023.6C445.9 1024.3 446.8 1025.2 447.4 1026.1C448 1027.2 448.5 1028.5 448.6 1029.7C448.7 1031.5 446.1 1034.5 446.7 1035.2C447.4 1035.8 450.5 1033.4 452.3 1033.6C453.5 1033.7 454.8 1034.2 455.8 1034.9C456.8 1035.5 457.6 1036.4 458.2 1037.4C458.8 1038.3 459.2 1039.4 459.4 1040.5C459.6 1041.6 459.5 1042.8 459.2 1043.9C458.9 1045 458.3 1046.1 457.5 1046.9C456.7 1047.9 455.6 1048.7 454.5 1049.1C452.8 1049.8 449.1 1048.3 448.7 1049.1C448.3 1049.9 451.6 1052.1 452 1053.9C452.2 1055.1 452.1 1056.5 451.8 1057.7C451.5 1058.8 450.9 1059.9 450.2 1060.7C449.5 1061.6 448.5 1062.3 447.5 1062.8C446.6 1063.3 445.4 1063.6 444.3 1063.6C443.2 1063.7 441.9 1063.4 440.9 1063C439.8 1062.5 438.6 1061.7 437.8 1060.8C436.6 1059.4 436.9 1055.5 436.1 1055.3C435.2 1055.1 434.1 1059 432.5 1059.9C431.5 1060.5 430.1 1060.8 428.9 1060.9C427.8 1060.9 426.5 1060.7 425.5 1060.3C424.5 1059.9 423.5 1059.2 422.7 1058.4C421.9 1057.6 421.3 1056.6 420.9 1055.6C420.5 1054.5 420.4 1053.3 420.4 1052.1C420.5 1050.9 421 1049.6 421.6 1048.6C422.6 1047 426.4 1046.1 426.3 1045.2C426.2 1044.3 422.2 1044.4 420.8 1043.2C419.9 1042.4 419.2 1041.2 418.7 1040.1C418.4 1039 418.2 1037.8 418.3 1036.7C418.3 1035.6 418.7 1034.4 419.2 1033.4C419.7 1032.5 420.5 1031.5 421.3 1030.9C422.2 1030.2 423.4 1029.6 424.5 1029.3C425.6 1029.1 427.1 1029 428.2 1029.3C430 1029.8 432.1 1033.1 432.9 1032.8C433.7 1032.4 432.3 1028.6 433.1 1027C433.6 1025.9 434.4 1024.8 435.4 1024C436.3 1023.3 437.4 1022.8 438.5 1022.5C439.6 1022.2 440.8 1022.2 441.9 1022.4Z" fill="none" stroke-width="9"/>
<path d="M288.6 1021.5C286.4 1018.3 284.3 1015 281.5 1012.7C278.1 1009.9 273.5 1007.7 269.2 1006.9C265.3 1006.2 260.7 1006.2 256.9 1007.4C253.7 1008.5 249.1 1010.2 248.1 1012.7C247 1015.4 249.2 1020.8 251.6 1023.3C253.6 1025.4 257.4 1026.3 260.4 1027.1C264.3 1028.3 268.5 1028.4 272.7 1028.6" fill="#fff" stroke-width="9.8"/>
<path d="M278.9 1035.6C274 1032.8 269.1 1030.1 263.9 1028.9C258.9 1027.8 253.1 1027.6 248.1 1028.6C242.5 1029.6 237.1 1032.5 232.2 1035.6C227.7 1038.5 223.2 1041.9 219.9 1046.1C217.8 1048.8 214.1 1052.3 214.6 1054.9C215.1 1057 217.9 1059.4 219.9 1060.6C223.7 1062.8 229.5 1061.2 234 1060.2C239 1059.1 243.2 1055.2 248.1 1053.5C253.2 1051.8 258.6 1050.3 263.9 1050C268.9 1049.7 273.9 1050.6 278.9 1051.4" fill="#fff" stroke-width="9.8"/>
<path d="M242.8 1062C239.7 1064.8 236.7 1067.7 234 1070.8C230.7 1074.6 227.4 1078.6 225.2 1083.1C223.6 1086.4 220.6 1090.8 221.7 1093.7C222.5 1096 226.2 1098.9 228.7 1099.3C231.4 1099.7 235 1097.3 237.5 1095.4C240.5 1093.3 241.7 1088.9 244.6 1086.6C248.8 1083.3 255.2 1083.2 260.4 1081.3C265.1 1079.7 270.1 1078.5 274.5 1076.1C277.2 1074.6 279.8 1072.7 282.4 1070.8" fill="#fff" stroke-width="9.8"/>
<path d="M285 1031.2C288.3 1027.6 291.6 1023.9 295.6 1021.9C300.7 1019.2 307.4 1018.7 313.2 1018.9C319.1 1019.1 325.1 1021.3 330.8 1023.3C335.9 1025.1 340.8 1027.5 345.7 1030" fill="none" stroke-width="9.8"/>
<path d="M281.5 1051.4C281.2 1047.4 281.7 1042.8 283.3 1039.1C285 1035.1 288.4 1031 292.1 1028.6C296 1025.9 301.4 1024.6 306.1 1024.2C311.9 1023.6 318 1025.5 323.7 1026.8C332.2 1028.7 340.1 1032.7 348.4 1035.6C357.2 1038.6 366 1041.5 374.8 1044.4C383.6 1047.3 392.7 1049.4 401.2 1053.2C407.9 1056.2 414.8 1059.3 420.5 1063.7C425.1 1067.3 431.9 1071 432.9 1076.1C433.5 1079.2 432.9 1084 431.1 1086.6C428.9 1089.9 423 1091 418.8 1092.3C410.5 1094.8 401.1 1093.5 392.4 1093.1C380.6 1092.7 368.8 1090.6 357.2 1088.4C347.1 1086.5 337.2 1083.9 327.3 1081.3C319 1079.2 310.4 1077.7 302.6 1074.3C297.1 1071.9 290.3 1069.9 286.8 1065.5C283.8 1061.8 281.9 1056.3 281.5 1051.4Z" fill="#fff" stroke-width="9.8"/>
<path d="M305.3 1060.2L304.4 1070.8" fill="none" stroke-width="9.5"/>
<path d="M317.6 1063.7L316.7 1070.8" fill="none" stroke-width="9.5"/>
<path d="M366 1054.9L364.2 1065.5" fill="none" stroke-width="9.5"/>
<path d="M377.4 1062L375.7 1069" fill="none" stroke-width="9.5"/>
<path d="M756 765.7C757 762.5 758.8 759.3 761 757C764.6 753 770.7 751.4 775.9 749.5C783.7 746.6 792.4 745.7 800.7 744.5C809 743.4 817.3 742.9 825.6 742.7C833.9 742.5 842.2 742.7 850.4 743.3C858.7 743.9 867 745 875.3 746.4C880.7 747.3 886.1 748.1 891.4 749.5C896.5 750.8 901.7 752.1 906.3 754.5C910.3 756.5 914.9 758.5 917.5 761.9C919.7 764.7 922 768.4 921.9 771.9C921.8 773.5 921.1 775.2 920.6 776.8C918.9 782.8 916.3 788.6 913.8 794.2C910.5 801.5 907 808.7 902.6 815.3C898.3 822 893.5 828.7 887.7 834C882.2 838.9 875.8 843.4 869.1 846.4C863.6 848.8 857.6 850.5 851.7 851.4C845.2 852.3 838.3 852.2 831.8 851.4C825.1 850.6 818.3 848.7 811.9 846.4C805 843.9 798.2 840.5 792 836.5C786.2 832.6 780.6 828 775.9 822.8C771.6 818 767.8 812.4 764.7 806.6C761.6 800.8 759 794.4 757.3 788C756 783.2 754.5 778.1 754.8 773.1C754.9 770.6 755.3 768 756 765.7Z" fill="#fff" stroke-width="10.2"/>
<path d="M773.4 768.1C773.3 771.7 773.2 775.3 774.7 778.1C776.4 781.5 781 783.6 784.6 785.5C790.5 788.6 797.8 788.9 804.5 789.9C813.5 791.2 822.7 791 831.8 791.1C840.1 791.2 848.4 791.2 856.6 790.5C865 789.8 873.4 788.7 881.5 786.8C886.9 785.4 892.7 784.4 897.6 781.8C900.7 780.1 905.4 778.7 906.3 775.6C906.8 774.2 906.9 771.9 906.3 770.6C905.4 768.4 901.5 767.7 898.9 766.9C895.4 765.8 891.4 766 887.7 765.7C883.6 765.2 879.4 764.9 875.3 764.4C872.4 764 869.5 763.6 866.6 763.2" fill="none" stroke-width="10.2"/>
<path d="M778.4 775.6C780.8 773.7 783.2 771.8 785.8 770.6C790 768.7 795 769.2 799.5 768.1C804.1 767.1 808.6 765.4 813.2 764.4C817.3 763.6 821.5 762 825.6 762.5C827.7 762.8 829.7 763.6 831.8 764.4" fill="none" stroke-width="10.2"/>
<path d="M831.8 764.4C829.3 765.8 826.8 767.2 825.6 769.4C824.4 771.4 823.5 775 824.3 776.8C825.3 778.9 829.2 779.7 831.8 780.6C835.7 781.8 840.1 781.8 844.2 781.8C848.4 781.8 852.6 781.5 856.6 780.6C859.2 780 862.7 779.7 864.1 778.1C865.6 776.2 865.8 771.8 864.7 769.4C863.8 767.3 861.5 765.9 859.1 764.4" fill="none" stroke-width="10.2"/>
<path d="M838 766.9C840.2 762.8 842.3 758.7 844.2 754.5C847.1 748 848.5 740.9 851.7 734.6C854.8 728.5 858.7 722.6 862.9 717.2C866.6 712.4 870.5 707.3 875.3 703.5C879 700.6 883.2 697.5 887.7 696.1C891.2 695 895.5 693.9 898.9 694.8C902.1 695.7 905.7 698.3 907.6 701.1C909.4 703.7 910.1 707.7 910.1 711C910 714.8 908.1 718.7 906.3 722.2C904 726.8 900.1 730.8 896.4 734.6C891.9 739.2 886.7 743.2 881.5 747C876.7 750.6 871.5 753.5 866.6 757C863.7 759 858.5 760.2 857.9 763.2C857.5 764.9 858.3 767.2 859.1 769.4" fill="#fff" stroke-width="10.2"/>
<ellipse cx="886.5" cy="716.6" rx="5.6" ry="7.8" transform="rotate(30 886.5 716.6)" fill="none" stroke-width="7"/>
<path d="M1097.7 752.9C1094.9 751.6 1092.2 750.4 1089.4 750.4C1086.1 750.4 1082.1 752.3 1079.5 754.5C1076.7 756.9 1074.5 760.9 1073.7 764.5C1072.9 768.1 1073.1 772.6 1074.5 776.1C1075.8 779.2 1078.4 782.3 1081.2 784.3C1083.9 786.4 1087.5 787.5 1091.1 788.5" fill="#fff" stroke-width="9.8"/>
<path d="M1238.5 770.3C1241.9 769.2 1245.3 768.1 1248.4 768.6C1252 769.2 1255.8 771.8 1258.4 774.4C1261.3 777.4 1264 782 1264.2 786C1264.4 789.8 1262.5 794.7 1260 797.6C1257.7 800.3 1253.7 802.5 1250.1 803.4C1247 804.2 1243.6 803.8 1240.2 803.4" fill="#fff" stroke-width="9.8"/>
<path d="M1095.2 769.4C1097.5 763.5 1101.4 757.4 1106 752.9C1111.3 747.6 1118.9 744.1 1125.9 741.3C1134.2 737.9 1143.4 736.7 1152.4 735.5C1159.5 734.5 1166.8 733.5 1173.9 733.8C1180.6 734.2 1187.4 735.2 1193.8 737.1C1200.7 739.2 1207.7 742.3 1213.7 746.3C1219.1 749.9 1224.6 754.3 1228.6 759.5C1231.6 763.5 1234.5 768 1236 772.8C1237.5 777.4 1237.4 782.7 1237.7 787.7C1238 793.2 1238 798.7 1237.7 804.2C1237.3 810.3 1237.3 816.9 1235.2 822.4C1233.1 827.9 1229.4 833.2 1225.3 837.3C1220.3 842.4 1213.5 845.9 1207 848.9C1199.3 852.6 1190.7 855 1182.2 856.4C1174.1 857.7 1165.6 857.9 1157.3 857.2C1149 856.5 1140.4 855 1132.5 852.3C1125.6 849.8 1118.5 846.7 1112.6 842.3C1107.7 838.6 1102.6 834.3 1099.4 829.1C1097.2 825.6 1095.5 821.5 1094.4 817.5C1092.5 810.7 1093.5 803.1 1093.6 795.9C1093.6 787.1 1092.2 777.5 1095.2 769.4Z" fill="#fff" stroke-width="9.8"/>
<path d="M1097.7 772.8C1103.7 776.4 1109.6 780 1115.9 782.7C1123.8 786.1 1132.3 788.5 1140.8 790.1C1148.9 791.7 1157.3 792.5 1165.6 792.6C1173.9 792.8 1182.3 792.1 1190.5 791C1198.8 789.9 1207.2 788.2 1215.3 786C1222.2 784.2 1228.8 781.8 1235.5 779.4" fill="none" stroke-width="9.8"/>
<path d="M1097.7 810.8C1101 812.3 1104.3 813.8 1107.7 814.2C1111.4 814.6 1115.6 813.7 1119.3 812.5C1122.7 811.4 1125.7 808.6 1129.2 807.5C1132.4 806.5 1136.2 805.1 1139.1 805.9C1142.3 806.7 1144.9 810.1 1147.4 812.5C1150.5 815.5 1152.3 819.9 1155.7 822.4C1158.6 824.6 1162.1 826.8 1165.6 827.4C1169.3 828 1173.8 827.3 1177.2 825.8C1180.3 824.4 1183 821.6 1185.5 819.1C1188 816.6 1189.3 812.8 1192.1 810.8C1194.9 808.9 1198.8 807.5 1202.1 807.5C1205.4 807.5 1209 809.2 1212 810.8C1215.1 812.5 1217.1 816.3 1220.3 817.5C1222.8 818.4 1226.1 819 1228.6 818.3C1231.2 817.5 1233.4 815 1235.5 812.5" fill="none" stroke-width="9.8"/>
<path d="M1154 721.4C1154.8 718.4 1156.8 715 1159 713.1C1162.5 710.2 1168.9 710.6 1173.9 710.6C1178.9 710.6 1185.3 710.2 1188.8 713.1C1191.4 715.3 1193.6 719.6 1194.1 723.1C1194.8 727.3 1193.2 732.9 1190.5 736.3C1188.5 738.8 1185.2 740.9 1182.2 742.1C1179.2 743.3 1175.6 743.8 1172.3 743.8C1168.4 743.7 1163.7 743.4 1160.7 741.3C1158.1 739.5 1156 736 1154.9 733C1153.5 729.5 1153.1 725 1154 721.4Z" fill="#fff" stroke-width="9.8"/>
<path d="M1302.4 835.1Q1302.4 827.1 1303.8 819.2L1305.4 810.1Q1308 796.3 1320.3 789.7L1471.5 707.9Q1475 706 1478.7 707.4L1752.7 812.3Q1765.8 817.3 1765.8 831.3L1765.5 1350Q1765.5 1358 1763 1362.5L1763 1362.5Q1760.6 1367 1753.6 1370.9L1598.7 1456.6Q1591.7 1460.5 1583.9 1462.3L1573.6 1464.8Q1560 1468 1547.5 1461.8L1309.2 1343.6Q1302 1340 1302 1332Z" fill="#fff" stroke="none"/>
<path d="M1302.4 1092.6L1302.4 835.1Q1302.4 827.1 1304 819.2L1305.9 809.8Q1309.1 794.1 1323.4 786.9L1470 713" fill="none" stroke-width="9.8"/>
<path d="M1330.3 791.6L1584.1 924.9" fill="none" stroke-width="9.8"/>
<path d="M1586.1 926.3L1761.3 824.8" fill="none" stroke-width="9.8"/>
<path d="M1693.7 768.4L1753.4 806.2Q1766.9 814.8 1766.9 830.8L1765.5 1350Q1765.5 1362 1755.1 1367.9L1591.7 1460.5" fill="none" stroke-width="9.8"/>
<path d="M1765.5 1358L1797 1376" fill="none" stroke-width="9.8"/>
<path d="M1584.1 925.5L1585.8 932.2Q1587.5 938.9 1587.5 948.9L1587.5 1225.7Q1587.5 1247.7 1567.9 1237.7L1312.4 1106.9Q1303.5 1102.4 1302.9 1092.4L1302.4 1081.4" fill="none" stroke-width="9.8"/>
<path d="M1302 1120L1302.2 1116.5Q1302.5 1113 1306.1 1114.8L1345 1135" fill="none" stroke-width="9.8"/>
<path d="M1551.4 1247.1L1571.8 1250.5Q1587.6 1253.1 1587.7 1269.1L1588.5 1449.8Q1588.6 1469.8 1570 1472.1L1570 1472.1Q1551.4 1474.5 1533.8 1465.2L1332.4 1358.3" fill="none" stroke-width="9.8"/>
<rect x="1515.9" y="1074.1" width="33" height="104" rx="16.5" transform="rotate(1.5 1532.4 1126.1)" fill="#fff" stroke-width="9.8"/>
<rect x="1513.7" y="1288.2" width="35" height="106" rx="17.5" transform="rotate(1.5 1531.2 1341.2)" fill="#fff" stroke-width="9.8"/>
<path d="M1511 794.9C1512.7 800.3 1514.4 805.8 1516.8 810.9C1518.9 815.4 1521 820.1 1524.1 823.9C1526.9 827.5 1530.4 830.8 1534.2 833.3C1538.9 836.6 1544.6 838.7 1550.1 840.3C1556.6 842.1 1563.7 842.5 1570.4 842.8C1577.7 843 1585.1 842.8 1592.2 841.3C1598.1 840 1604.4 838.3 1609.6 835.2C1613.8 832.7 1618.1 829.3 1621.2 825.4C1623.5 822.4 1625.2 818.7 1627 815.2C1630 809.2 1632 802.7 1634.2 796.4C1636.6 789.7 1638.6 782.9 1640.7 776.1" fill="#fff" stroke-width="9.8"/>
<path d="M1542.2 696.4C1539.1 692.3 1532.4 689.5 1527 687.7C1521.5 685.9 1515.3 685.2 1509.6 685.5C1504.2 685.8 1498.5 687 1493.6 689.1C1488.3 691.4 1483.3 695.2 1479.1 699.3C1475.2 703 1471.7 707.6 1469 712.3C1466.9 716 1463.7 720 1463.9 723.9C1464.1 726.8 1465.5 730.6 1467.5 732.6C1469.8 734.8 1474.2 735.5 1477.7 735.8C1481.5 736.2 1485.4 734.8 1489.3 734.3C1497 733.3 1504.8 732.6 1512.5 731.2C1522.2 729.3 1536.7 730.3 1541.4 723.9C1545.8 718.1 1547 702.7 1542.2 696.4Z" fill="#fff" stroke-width="9.8"/>
<path d="M1598 721.7C1598.9 717.6 1603 712.6 1606.7 709.4C1610.6 706 1616.1 703.6 1621.2 702.2C1626.6 700.6 1632.8 700.2 1638.6 700.7C1643.9 701.2 1649.8 702.5 1654.5 705.1C1659.5 707.7 1663.8 712.3 1667.5 716.7C1671.8 721.7 1674.8 728 1677.7 734.1C1680.6 740.1 1682.6 746.6 1684.9 752.9C1686.5 757.3 1691 763.1 1689.6 766.2C1688.2 769.2 1681.8 770.4 1677.7 771.7C1672.2 773.5 1666.1 774.2 1660.3 774.2C1654.5 774.2 1648.4 773.8 1642.9 772C1637.8 770.4 1632.6 767.7 1628.4 764.5C1622.3 759.8 1618.5 752.1 1613.9 745.7C1608.3 737.9 1596.2 729.6 1598 721.7Z" fill="#fff" stroke-width="9.8"/>
<path d="M1640 739.1C1643 739.1 1646 739 1648.7 739.9C1651.3 740.7 1654.4 742 1655.9 744.2C1656.8 745.5 1657.3 747.2 1657.7 748.8" fill="none" stroke-width="9.8"/>
<path d="M1537.1 665.9C1544 665.7 1551 665.4 1555.9 667.4C1570.3 673 1578.6 716.3 1566.1 721C1561.6 722.7 1554.1 721.9 1546.5 721Z" fill="#fff" stroke="none"/>
<path d="M1593.6 657.2C1597.8 657 1602.1 656.7 1605.2 657.2C1623 660.4 1609.4 717.2 1590.7 721C1586.6 721.9 1581.4 721.4 1576.2 721Z" fill="#fff" stroke="none"/>
<path d="M1537.1 665.9C1538.7 670.7 1540.3 675.5 1541.4 680.4C1543.2 687.6 1544.1 694.9 1545.1 702.2C1545.8 707.5 1546.3 712.8 1546.8 718.1" fill="none" stroke-width="9.8"/>
<path d="M1555.9 667.4C1558.1 672.6 1560.3 677.9 1561.7 683.3C1563.3 689.5 1563.9 695.9 1564.6 702.2C1565.5 708.9 1565.9 715.7 1566.4 722.5" fill="none" stroke-width="9.8"/>
<path d="M1593.6 657.2C1590.4 662.4 1587.2 667.6 1584.9 673.2C1582.1 680.1 1580.6 687.6 1579.1 694.9C1577.4 703.7 1576.8 712.7 1576.2 721.7" fill="none" stroke-width="9.8"/>
<path d="M1605.2 657.2C1602.6 663.5 1599.9 669.7 1598 676.1C1596.1 682.2 1594.8 688.6 1593.6 694.9C1592.2 702.8 1591.5 710.8 1590.7 718.8" fill="none" stroke-width="9.8"/>
<path d="M1563.2 723.9C1561 720.2 1554.6 719.5 1550.1 718.1C1544.6 716.4 1538.6 715.2 1532.8 715.2C1527 715.2 1520.8 716.2 1515.4 718.1C1509.7 720 1504.1 723.1 1499.4 726.8C1494.9 730.4 1490.6 734.9 1487.8 739.9C1485.1 744.6 1483.5 750.4 1482.8 755.8C1482 761.5 1482.5 767.5 1483.5 773.2C1484.4 778.1 1485.4 783.4 1487.8 787.7C1489.7 790.9 1491.9 794.7 1495.1 796.4C1497.5 797.7 1501 798.3 1503.8 798.1C1507.9 797.8 1511.5 794.1 1515.4 792C1521.2 788.8 1527 785.3 1532.8 781.9C1538.6 778.5 1545.1 776.1 1550.1 771.7C1554 768.4 1557.8 764.5 1560.3 760.1C1562.7 755.8 1564.2 750.6 1564.9 745.7C1565.6 740.9 1565.7 735.9 1564.9 731.2C1564.5 728.7 1564.3 725.8 1563.2 723.9Z" fill="#fff" stroke-width="9.8"/>
<path d="M1516.8 747.4C1518.6 743.8 1520.4 740.2 1522.6 737C1524.7 733.9 1527.1 730.7 1529.9 728.3C1532.5 725.9 1535.7 724.2 1538.8 722.5" fill="none" stroke-width="9.8"/>
<path d="M1569 725.4C1570.9 723.4 1575.7 724.2 1579.1 723.9C1583.9 723.5 1588.9 723.2 1593.6 723.9C1598.6 724.6 1603.5 726.3 1608.1 728.3C1613.2 730.5 1618.6 733.2 1622.6 737C1626.1 740.2 1629.3 744.3 1631.3 748.6C1633.1 752.5 1634.8 757.3 1634.5 761.6C1634.2 765.5 1632 769.7 1629.9 773.2C1627.9 776.4 1625.1 779.1 1622.6 781.9C1620.7 784 1618.9 787.4 1616.8 788C1613.8 788.8 1609.9 784.1 1606.7 781.9C1602.1 778.8 1598.3 774.7 1593.6 771.7C1589.1 768.9 1584 766.8 1579.1 764.5C1575.9 763 1571.4 762.6 1569.3 760.1C1567.1 757.7 1566.6 753.4 1566.1 750C1565.4 745.3 1566.9 740.3 1567.5 735.5C1568 732.1 1567.1 727.3 1569 725.4Z" fill="#fff" stroke-width="9.8"/>
<path d="M1600.9 726.8C1603 728.6 1605.2 730.4 1606.7 732.6C1608.2 734.8 1609 737.5 1609.9 740.1" fill="none" stroke-width="9.8"/>
<path d="M1532.8 583.3C1535.7 584.1 1538.2 577.7 1541.4 576.1C1545.3 574.2 1550.3 573.4 1554.5 573.9C1558.5 574.4 1563 576.3 1566.1 579C1569 581.5 1571.5 585.4 1572.6 589.1C1573.6 592.7 1572.2 596.9 1572.6 600.7C1573 604.1 1573.5 607.7 1574.8 610.9C1576 614 1578.9 616.5 1579.9 619.6C1581.5 624.9 1578.6 631.2 1577.7 637C1576.9 641.8 1576.5 646.9 1574.8 651.4C1573.4 655.3 1571.9 659.8 1569 662.3C1566.1 664.9 1561.4 666.1 1557.4 666.7C1553.6 667.2 1549.6 666.6 1545.8 665.9C1542.9 665.5 1539.7 663.2 1537.1 663.8C1534.3 664.4 1532.5 668.6 1529.9 670.3C1526.4 672.5 1522.2 674.2 1518.3 674.6C1514 675.1 1509 674.4 1505.2 672.5C1501.9 670.8 1498.8 667.6 1496.5 664.5C1494.6 661.7 1494.5 657.6 1492.2 655.1C1491.7 654.6 1491.2 654 1490.7 653.6C1488.5 652 1484.7 654.3 1482 653.6C1478.3 652.7 1474.4 650 1471.9 647.1C1469.2 644 1467.3 639.5 1466.8 635.5C1466.3 631.3 1467 626.2 1469 622.5C1470.8 619 1474.2 615.7 1477.7 613.8C1480.3 612.3 1484.8 612.8 1486.4 610.9C1488.3 608.5 1485.7 603.1 1485.7 599.3C1485.6 594.9 1485.1 590.3 1486.4 586.2C1487.7 582 1490.3 577.4 1493.6 574.6C1497 571.8 1502.2 569.9 1506.7 569.6C1510.9 569.3 1515.9 570.5 1519.7 572.5C1523 574.1 1525.5 577.3 1528.4 579.7C1529.9 580.9 1531.3 582.9 1532.8 583.3Z" fill="#fff" stroke-width="9.8"/>
<circle cx="1531.3" cy="623.9" r="13.8" fill="none" stroke-width="9.8"/>
<path d="M1614.6 589.9C1617.8 589.3 1619.4 583.2 1622.6 581.2C1625.9 579.1 1630.3 577.8 1634.2 577.5C1638.5 577.2 1643.3 578 1647.2 579.7C1651.1 581.4 1655 584.3 1657.4 587.7C1659.7 590.9 1661.3 595.3 1661.7 599.3C1662 602.1 1660.2 605.5 1661 608C1662.2 611.3 1667.9 612.3 1670.4 615.2C1673.1 618.4 1675.6 622.7 1676.2 626.8C1676.8 630.5 1676.3 635 1674.8 638.4C1673.3 641.7 1670.5 645.1 1667.5 647.1C1664.3 649.3 1659.8 649.5 1655.9 650.7C1654.9 651.1 1653.6 651.2 1652.8 651.7C1650.1 653.3 1651.7 658.7 1650.1 661.6C1648.3 665.1 1644.9 668.4 1641.4 670.3C1637.7 672.4 1632.7 673.5 1628.4 673.2C1624.5 672.9 1620 671.2 1616.8 668.8C1613.9 666.7 1611.7 663.2 1609.6 660.1C1608 657.9 1607.3 654.2 1605.2 653.2C1603 652.1 1599.4 654.9 1596.5 654.6C1593.5 654.4 1590.2 653.2 1587.8 651.4C1585.4 649.7 1583.5 646.8 1582 644.2C1580.3 641.1 1578.9 637.5 1578.4 634.1C1577.7 629.4 1580.4 624.3 1579.9 619.6C1579.4 615.6 1577.4 611.9 1576.2 608C1575.2 604.6 1573.3 601.2 1573.3 597.8C1573.3 595.4 1573.7 592.7 1574.8 590.6C1576.2 587.8 1579.2 585.4 1582 584.1C1585.4 582.4 1589.8 582.3 1593.6 582.6C1597.6 582.9 1601.4 584.9 1605.2 586.2C1608.4 587.3 1611.9 590.3 1614.6 589.9Z" fill="#fff" stroke-width="9.8"/>
<circle cx="1624.1" cy="622.5" r="13.3" fill="none" stroke-width="9.8"/>
<path d="M1317.6 1428.1C1317.7 1437.3 1317.8 1446.5 1319.3 1455.5C1320.2 1460.7 1320.8 1466.2 1322.9 1471C1325.1 1476.1 1328.8 1480.8 1332.4 1485.2C1335.9 1489.6 1342.7 1492.3 1344.3 1497.1C1345.6 1501.3 1345.1 1507.5 1343.1 1511.4C1341.1 1515.4 1336.4 1518.8 1332.4 1521C1326.9 1523.9 1319.6 1524.9 1313.3 1524.5C1306.9 1524.2 1299.4 1522.4 1294.3 1518.6C1290.4 1515.7 1286.9 1511.1 1284.8 1506.7C1282.3 1501.7 1282 1495.6 1281.2 1490C1279.9 1481.4 1280 1472.6 1280 1463.8" fill="#fff" stroke-width="9.8"/>
<path d="M1242.4 1475.7C1242.8 1485.3 1243.1 1494.8 1244.3 1504.3C1245.2 1511.5 1245.6 1518.9 1247.9 1525.7C1249.8 1531.5 1253.4 1536.8 1256.2 1542.4C1258.6 1547.1 1263.9 1552.2 1263.3 1556.7C1262.8 1560.9 1257.8 1565.8 1253.8 1568.6C1249.9 1571.3 1244.4 1572.3 1239.5 1573.3C1234.9 1574.3 1229.9 1574.8 1225.2 1574.5C1217.9 1574.1 1209 1572 1203.8 1568.6C1189.9 1559.3 1196.9 1534.2 1203.8 1509" fill="#fff" stroke-width="9.8"/>
<path d="M1169.8 1264.8C1256.2 1255.7 1342.6 1246.6 1347 1288.7C1348.8 1306.5 1336.3 1346.4 1323 1360.4C1295.2 1390 1232.5 1354.6 1169.8 1319.1Z" fill="#fff" stroke="none"/>
<path d="M1169.3 1264.8L1170.2 1315.9" fill="none" stroke-width="9.8"/>
<path d="M1347.4 1287.6L1323 1360.4" fill="none" stroke-width="9.8"/>
<g transform="rotate(1.3 1205.4 1392.4)"><path d="M1083.3 1392.4L1083.3 1409.4A122.1 78.1 0 0 0 1327.5 1409.4L1327.5 1392.4Z" fill="#fff" stroke-width="9.8"/><ellipse cx="1205.4" cy="1392.4" rx="122.1" ry="78.1" fill="#fff" stroke-width="9.8"/></g>
<path d="M1179.6 1155C1178.1 1154.6 1176.3 1154.6 1175.2 1153.9C1172.6 1152.2 1173.7 1146.5 1174.1 1143C1174.6 1139.3 1176.5 1135.5 1178.5 1132.2C1180.9 1128 1184.6 1124.4 1188.3 1121.3C1192.7 1117.6 1198.1 1114.4 1203.5 1112.6C1209.6 1110.5 1216.7 1109.8 1223 1110.4C1229 1111.1 1235.1 1113.1 1240.4 1115.9C1245.2 1118.4 1249.7 1121.8 1253.5 1125.7C1255.4 1127.7 1256.8 1130.6 1258.9 1132.2C1263.6 1135.5 1271.3 1132.4 1277.4 1133.3C1284.8 1134.3 1292.2 1135.9 1299.1 1138.7C1303.8 1140.6 1308.1 1145.7 1312.6 1145.7C1316.8 1145.6 1320.9 1141.3 1325.2 1139.8C1330.8 1137.9 1336.8 1136.5 1342.6 1136.5C1349.2 1136.5 1356.2 1138.2 1362.2 1140.9C1368.6 1143.8 1374.6 1148.8 1379.6 1153.9C1384.9 1159.5 1389.9 1166.3 1392.6 1173.5C1395.1 1180.2 1396.8 1188.2 1395.9 1195.2C1395.2 1200.4 1393.5 1206.3 1390.4 1210.4C1387.8 1214 1381.8 1215.5 1379.6 1219.1C1376.7 1223.7 1378.8 1230.9 1377.4 1236.5C1375.9 1242.5 1373.3 1248.2 1370.9 1253.9C1368.3 1259.8 1365.7 1265.9 1362.2 1271.3C1358.5 1276.8 1354.4 1283.1 1349.1 1286.5C1341.6 1291.4 1329.7 1291.3 1320.9 1290.9C1293.7 1289.4 1276.9 1252.3 1255.7 1232.2C1229.5 1207.3 1214.2 1164.4 1179.6 1155Z" fill="#fff" stroke-width="9.8"/>
<path d="M1179.6 1153.9C1179.8 1149.3 1180 1144.8 1181.7 1140.9C1183.5 1136.8 1186.9 1132.7 1190.4 1130C1194.6 1126.9 1200.4 1125.1 1205.7 1124.6C1210.6 1124.1 1216.2 1125 1220.9 1126.7C1225.6 1128.5 1230.4 1131.7 1233.9 1135.4C1237.3 1139 1239.4 1143.7 1241.5 1148.5L1241.5 1148.5C1249.9 1148.4 1258.3 1148.3 1266.5 1149.6C1274.6 1150.8 1283 1152.7 1290.4 1156.1C1296.6 1158.9 1302.1 1163.2 1307.8 1167C1310 1168.4 1312.2 1169.8 1314.3 1171.3L1314.3 1171.3C1317 1168 1319.7 1164.8 1323 1162.6C1326.8 1160.2 1331.7 1158.6 1336.1 1158.3C1341.1 1157.9 1346.9 1159.2 1351.3 1161.5C1356.1 1164 1360.5 1168.8 1363.3 1173.5C1366.1 1178.5 1367.6 1185.1 1367.6 1190.9C1367.6 1196.7 1366 1203.1 1363.3 1208.3C1361.8 1211 1359.8 1213.4 1357.8 1215.9L1357.8 1215.9C1359.7 1221.3 1361.6 1226.7 1362.2 1232.2C1362.8 1237.9 1362.4 1244 1361.1 1249.6C1359.7 1255.6 1356.8 1261.6 1353.5 1267C1350 1272.6 1345.6 1278.2 1340.4 1282.2C1334.9 1286.4 1327.6 1288.5 1320.9 1290.9C1312.5 1293.9 1303.6 1296.1 1294.8 1297.4C1284.8 1298.9 1274.4 1299.2 1264.3 1298.5C1254.1 1297.8 1243.7 1296 1233.9 1293C1224.9 1290.4 1216 1286.7 1207.8 1282.2C1199.3 1277.4 1190.8 1271.7 1183.9 1264.8C1177 1257.9 1170.9 1249.6 1166.5 1240.9C1162.4 1232.8 1159.3 1223.7 1157.8 1214.8C1156.8 1208.4 1155.9 1201.6 1156.7 1195.2C1157.7 1187.7 1160.5 1180 1164.3 1173.5C1167.7 1167.8 1174.1 1164.1 1177.4 1158.3C1178.2 1156.9 1178.9 1155.4 1179.6 1153.9Z" fill="#fff" stroke-width="9.8"/>
<ellipse cx="1252.4" cy="1235.9" rx="48.7" ry="32.7" transform="rotate(11.4 1252.4 1235.9)" fill="none" stroke-width="9.8"/>
<path d="M1217.2 1213.5C1216.5 1218.1 1215.9 1222.7 1217 1226.7C1218.3 1231.9 1222.4 1237.1 1226.5 1240.7C1230.8 1244.3 1236.7 1246.6 1242.2 1248.3C1248.3 1250.1 1255.1 1250.7 1261.5 1250.7C1268 1250.7 1274.6 1249.9 1280.9 1248.3C1284.6 1247.3 1289.1 1246.9 1291.7 1244.3C1293.2 1242.9 1294.2 1240.9 1295.2 1238.9" fill="none" stroke-width="9.8"/>
<path d="M637.4 1482.7C637 1489.8 636.5 1496.8 635.7 1503.8C635.2 1507.9 635.2 1512.3 633.9 1516.1C632.2 1521.3 628.2 1525.6 625.1 1530.2C622.3 1534.4 617.4 1537.9 616.3 1542.5C615.4 1546.3 615.6 1551.4 617.2 1554.9C618.9 1558.5 623.2 1561.7 626.9 1563.7C631.4 1566 637.4 1566.2 642.7 1566.3C648.6 1566.4 655.2 1566.1 660.3 1563.7C665 1561.4 669.8 1557.5 672.6 1553.1C675.2 1549.1 676.8 1543.8 677 1539C677.2 1536.1 676.4 1533.2 676.1 1530.2C675.4 1522 674.9 1513.8 674.4 1505.6" fill="#fff" stroke-width="9.8"/>
<path d="M711.3 1521.4C711.3 1528.5 711.3 1535.5 711.3 1542.5C711.3 1547.8 712 1553.2 711.3 1558.4C710.5 1564.4 707.9 1570.1 706.1 1576C704.6 1580.7 701.2 1585.5 701.7 1590.1C702 1593.6 703.7 1598 706.1 1600.6C708.9 1603.7 714.1 1604.9 718.4 1605.9C724 1607.2 730.3 1606.9 736 1605.9C741.4 1605 747.5 1603.8 751.8 1600.6C755.4 1598 758.9 1594.1 760.6 1590.1C762.4 1585.9 762.6 1580.6 762.4 1576C762 1570 758.3 1564.4 757.1 1558.4C756.2 1553.8 755.8 1549 755.3 1544.3C754.6 1536.7 754.6 1529.1 754.5 1521.4" fill="#fff" stroke-width="9.8"/>
<path d="M593.5 1337.4C669.8 1294.2 746 1251.1 764.1 1291.7C769.9 1304.8 772.8 1332.5 769.6 1348.3C760.4 1392.7 691.1 1400.9 621.7 1409.1Z" fill="#fff" stroke="none"/>
<path d="M595.7 1340.7L622.2 1408" fill="none" stroke-width="9.8"/>
<path d="M764.1 1291.7L769.6 1347.2" fill="none" stroke-width="9.8"/>
<g transform="rotate(-4.4 741 1427.6)"><path d="M614.7 1427.6L614.7 1453.6A126.3 80.3 0 0 0 867.3 1453.6L867.3 1427.6Z" fill="#fff" stroke-width="9.8"/><ellipse cx="741" cy="1427.6" rx="126.3" ry="80.3" fill="#fff" stroke-width="9.8"/></g>
<path d="M571.7 1313.5C566.8 1310.5 561.8 1305.6 558.7 1300.4C556 1296 553.8 1290.4 553.3 1285.2C552.8 1280.3 556.9 1274.3 555.4 1270C553.9 1265.5 546.9 1263.2 543.5 1259.1C539.3 1254.1 535.5 1248 533.7 1241.7C531.9 1235.6 531.5 1228.4 532.6 1222.2C533.8 1215.3 537.1 1208.2 541.3 1202.6C545.2 1197.4 550.7 1192.5 556.5 1189.6C562.3 1186.7 569.5 1185.5 576.1 1185.2C581.8 1185 587.9 1185.8 593.5 1187.4C599 1188.9 604.4 1195.3 609.3 1194.6C613.8 1193.9 617.3 1187.8 621.7 1185.2C627.7 1181.7 634.6 1179.6 641.3 1177.6C648 1175.6 657.3 1177.8 662 1173.3C664.4 1170.9 665.2 1166.4 667.4 1163.5C670.3 1159.7 674.1 1156 678.3 1153.7C683.3 1150.8 689.8 1149.7 695.7 1149.3C701.4 1149 707.5 1149.8 713 1151.5C718.4 1153.2 723.7 1155.8 728.3 1159.1C732.3 1162.1 736.3 1165.8 739.1 1170C742 1174.2 743.9 1179.4 745.2 1184.1C751.4 1206.2 730.7 1231.9 717.4 1250.4C693.8 1283.2 649.5 1312.7 608.7 1315.7C596.8 1316.5 581.7 1319.5 571.7 1313.5Z" fill="#fff" stroke-width="9.8"/>
<path d="M571.7 1264.6C568.5 1260.8 565.2 1257 563 1252.6C560.7 1248 558.9 1242.5 558.7 1237.4C558.5 1231.6 560.1 1225 563 1220C565.6 1215.8 569.6 1211.5 573.9 1209.1C578.3 1206.7 584.2 1205.3 589.1 1205.9C593.6 1206.3 598.3 1208.8 602.2 1211.3C605.8 1213.6 608.9 1216.8 612 1220L612 1220C615.1 1217 618.3 1213.9 621.7 1211.3C627.7 1206.8 634.5 1203.5 641.3 1200.4C648.3 1197.3 655.6 1194.7 663 1192.8C669.1 1191.3 675.3 1190.4 681.5 1189.6L681.5 1189.6C682.3 1185.7 683 1181.9 684.8 1178.7C687.2 1174.3 691.4 1170.4 695.7 1167.8C700.6 1164.9 707.2 1163.5 713 1163.5C718.1 1163.5 723.8 1164.4 728.3 1166.7C732.4 1168.9 736.1 1172.8 739.1 1176.5C742.4 1180.6 744.6 1185.6 746.7 1190.7L746.7 1190.7C751.9 1195.8 757 1201 760.9 1207C765.2 1213.6 768.5 1221.1 770.7 1228.7C772.7 1235.7 773.9 1243.2 773.9 1250.4C774 1259.1 772.6 1268.4 769.6 1276.5C766.7 1284.3 761.9 1292 756.5 1298.3C750.6 1305.2 742.6 1310.8 734.8 1315.7C726.1 1321.1 716.3 1325.3 706.5 1328.7C696 1332.3 684.9 1334.9 673.9 1336.3C663.2 1337.7 652.1 1338.1 641.3 1337.4C631.8 1336.8 621.9 1336.3 613 1333C606.1 1330.5 599 1327 593.5 1322.2C588.2 1317.5 583.7 1311.1 580.4 1304.8C577.3 1298.8 575.4 1291.9 573.9 1285.2C572.5 1278.5 572.1 1271.5 571.7 1264.6Z" fill="#fff" stroke-width="9.8"/>
<ellipse cx="679.4" cy="1275.9" rx="46.8" ry="30.2" transform="rotate(-22.6 679.4 1275.9)" fill="none" stroke-width="9.8"/>
<path d="M712.4 1249.1C712.8 1252.8 713.2 1256.5 712.4 1259.9C711.4 1264.1 708.3 1268.1 705.4 1271.5C702.3 1275.2 698 1278.3 693.8 1280.9C689 1283.9 683.6 1286.1 678.2 1287.8C673.2 1289.4 667.9 1290.7 662.7 1291C658.3 1291.3 653.7 1291.3 649.5 1290.2C646.3 1289.4 642.6 1288.5 640.2 1286.3C638.8 1285.1 637.8 1283.4 636.7 1281.7" fill="none" stroke-width="9.8"/>
<path d="M819.6 1680.1C818.7 1689.4 817.8 1698.7 819.6 1707.5C821 1714.3 822.7 1722.3 827.1 1727.3C831.2 1732.1 838.3 1735.2 844.5 1737.3C851.4 1739.6 859.7 1741 866.8 1739.8C872.8 1738.7 880.8 1736.8 884.2 1732.3C887 1728.7 887.4 1722.4 888 1717.4C888.7 1710.9 887.7 1704.2 886.7 1697.5" fill="#fff" stroke-width="9.8"/>
<path d="M1183.6 1677.6C1184.9 1684.3 1186.2 1690.9 1186.1 1697.5C1186 1705 1185.7 1713.5 1182.4 1719.9C1179.2 1725.8 1173.3 1731.5 1167.5 1734.8C1161.1 1738.4 1152.5 1739.9 1145.1 1739.8C1138.4 1739.6 1130.3 1738.6 1125.2 1734.8C1120.7 1731.5 1117.1 1725.3 1115.3 1719.9C1113 1713.1 1114.1 1705.3 1115.3 1697.5" fill="#fff" stroke-width="9.8"/>
<g transform="rotate(1.7 999.8 1530)"><path d="M777.4 1530L777.4 1597A222.4 132.8 0 0 0 1222.2 1597L1222.2 1530Z" fill="#fff" stroke-width="9.8"/><ellipse cx="999.8" cy="1530" rx="222.4" ry="132.8" fill="#fff" stroke-width="9.8"/></g>
<ellipse cx="941.1" cy="1564.2" rx="99.2" ry="47.2" transform="rotate(-1.6 941.1 1564.2)" fill="#fff" stroke-width="9.8"/>
<path d="M870.2 1525.4C868.4 1522.5 866.5 1519.7 865.8 1516.6C865.1 1513.3 864.9 1509.1 866.3 1506C867.5 1503.3 870.2 1500.5 872.9 1499C875.4 1497.6 878.9 1496.7 881.7 1497.2C883.7 1497.7 885.5 1499 887.4 1500.3L887.4 1500.3C887.2 1497.4 887 1494.4 887.8 1492C889.1 1488.4 892.6 1485.3 895.8 1483.2C899.2 1480.8 903.9 1479 908.1 1478.8C911.5 1478.5 915.3 1479.4 918.6 1480.5C921.2 1481.3 923.7 1482.6 926.1 1483.9L926.1 1483.9C926.9 1481.4 927.7 1478.9 929.2 1477C931.2 1474.5 934.8 1472.6 938 1471.7C941.3 1470.8 945.2 1470.9 948.6 1471.7C952 1472.6 955.6 1474.5 958.2 1477C960.5 1479.1 962.9 1481.9 963.5 1484.9C963.9 1486.6 963.7 1488.4 963.5 1490.2L963.5 1490.2C968.3 1493.9 973 1497.7 977.6 1501.6C982.7 1506.1 988.4 1510.3 992.5 1515.7C994.9 1518.7 997.3 1521.9 998.7 1525.4C999.8 1528.2 1000.3 1531.2 1000.6 1534.2C1001.1 1538.5 1000.1 1543 999.8 1547.4C999.4 1551.8 999.6 1556.3 998.7 1560.6C998.1 1563.6 997.9 1567.3 996.1 1569.4C994.5 1571.2 991.5 1572.1 989 1572.9C984.1 1574.6 978.5 1573.6 973.2 1573.5C964.4 1573.5 955.5 1572.4 946.8 1571.3C937.9 1570.2 929.2 1568.5 920.4 1566.9C913 1565.6 905.6 1564.6 898.4 1562.5C893.9 1561.2 889.1 1560.4 885.2 1558C882.3 1556.1 879 1553.8 877.3 1550.9C875.7 1548.2 875.5 1544.5 875.1 1541.2C874.7 1538.3 875.5 1535.1 874.6 1532.4C873.8 1529.9 872 1527.6 870.2 1525.4Z" fill="#fff" stroke-width="9.8"/>
<path d="M960.4 1490.2C955.8 1490.6 951.3 1491.1 946.8 1492C939.3 1493.4 932 1496.4 924.8 1499C917.4 1501.7 909.5 1503.8 902.8 1507.8C898.8 1510.2 893.5 1512.5 891.4 1516.2C888.6 1520.8 889 1528.8 891.2 1534.2C892.2 1536.7 893.8 1539.3 895.8 1541.2C898.5 1543.9 902.7 1545.1 906.3 1546.5C913.5 1549.3 921.5 1549.7 929.2 1550.9C937.9 1552.3 946.8 1553.3 955.6 1554C964.4 1554.7 973.2 1555.1 982 1555.3C987.6 1555.4 993.1 1555.4 998.7 1555.3" fill="none" stroke-width="9.8"/>
<path d="M897.5 1519.7C905.1 1521.4 912.7 1523.1 920.4 1524.5C929.2 1526.2 938 1527.7 946.8 1528.9C955.6 1530.1 964.4 1531.1 973.2 1531.6C980.9 1532 988.7 1532 996.5 1532" fill="none" stroke-width="9.8"/>
<path d="M1126.6 1411.8C1129.3 1410 1132 1408.3 1134.9 1407.6C1138.8 1406.7 1143.5 1407.4 1147.3 1408.7C1152.4 1410.3 1157.3 1414 1160.8 1418C1164.2 1421.9 1166.9 1427.3 1168.1 1432.5C1169.2 1437.4 1169.1 1443 1168.1 1448C1166.9 1453.4 1164.1 1459 1160.8 1463.5C1157.5 1468 1153.2 1472.2 1148.4 1474.9C1144.4 1477.2 1139.6 1478.9 1134.9 1479.6C1130.9 1480.1 1126.7 1479.6 1122.5 1479" fill="#fff" stroke-width="9.8"/>
<path d="M1126.6 1431.4C1129.5 1430.6 1132.4 1429.8 1134.9 1430.4C1137.6 1431 1140.5 1433.3 1142.2 1435.6C1144.1 1438 1145.3 1441.8 1145.3 1444.9C1145.3 1448 1143.8 1451.5 1142.2 1454.2C1140.4 1457 1137.8 1459.7 1134.9 1461.4C1132.2 1463.1 1128.9 1463.8 1125.6 1464.6" fill="none" stroke-width="9.8"/>
<path d="M1007.1 1395.2C1008.5 1392.3 1010.4 1389.1 1012.8 1386.9C1016.3 1383.7 1021.6 1382.2 1026.2 1380.7C1032.8 1378.6 1040 1378.2 1046.9 1377.6C1053.8 1377 1060.8 1376.8 1067.6 1377.1C1074.6 1377.3 1081.5 1377.9 1088.3 1379.2C1095.4 1380.4 1102.4 1382.2 1109 1384.8C1114 1386.8 1120.8 1387.9 1123.5 1392.1C1124.9 1394.1 1125.5 1396.9 1126.1 1399.3C1127.9 1406.6 1125.1 1414.5 1124.6 1422.1C1123.8 1432.5 1123 1442.8 1122 1453.2C1121 1463.5 1120.9 1474.2 1118.4 1484.2C1117 1489.5 1116.4 1495.6 1113.2 1499.8C1110.9 1502.7 1107.2 1505.1 1103.9 1507C1097.8 1510.5 1090.2 1511.5 1083.2 1512.7C1076.4 1513.9 1069.4 1514.3 1062.5 1514.2C1055.6 1514.2 1048.5 1513.5 1041.8 1512.2C1035.5 1511 1028.6 1510.1 1023.1 1507C1019.8 1505.1 1016 1502.8 1013.8 1499.8C1010.8 1495.7 1010.7 1489.5 1009.7 1484.2C1007.6 1474.1 1007.6 1463.5 1007.1 1453.2C1006.6 1442.8 1006.5 1432.5 1006.6 1422.1C1006.6 1413.1 1003.3 1403 1007.1 1395.2Z" fill="#fff" stroke-width="9.8"/>
<path d="M1020 1404.5C1023.8 1406.4 1027.5 1408.3 1031.4 1409.7C1038 1412 1045.1 1413 1052.1 1413.8C1058.9 1414.6 1065.9 1414.9 1072.8 1414.7C1079.7 1414.4 1086.9 1414.1 1093.5 1412.3C1097.8 1411.1 1102.3 1409.9 1105.9 1407.6C1108.6 1405.9 1110.9 1403.7 1113.2 1401.4" fill="none" stroke-width="9.8"/>
<path d="M1008.1 1448C1009.8 1445.9 1011.4 1443.7 1013.3 1441.8C1015.1 1439.9 1016.8 1437.9 1019 1436.6C1022 1434.9 1025.9 1434 1029.3 1434C1032.4 1434 1035.9 1434.7 1038.7 1436.1C1041.5 1437.6 1044 1440.2 1045.9 1442.8C1047.7 1445.3 1048.9 1448.2 1050 1451.1L1050 1451.1C1054.2 1450.3 1058.3 1449.6 1062.5 1449.5C1067.8 1449.5 1073.2 1450.7 1078.5 1451.9L1078.5 1451.9C1079.8 1448.6 1081 1445.4 1083.2 1442.8C1085.3 1440.2 1088.4 1437.9 1091.4 1436.6C1094.6 1435.3 1098.4 1434.8 1101.8 1435.1C1105.3 1435.4 1109.3 1436.6 1112.2 1438.7C1114.7 1440.5 1116.9 1443.2 1118.4 1445.9C1119.5 1448.1 1120.1 1450.6 1120.6 1453.2" fill="none" stroke-width="9.8"/>
<ellipse cx="1044.3" cy="1481.1" rx="4.1" ry="5.7" fill="#000" stroke="none"/>
<ellipse cx="1087.3" cy="1482.2" rx="4.1" ry="5.7" fill="#000" stroke="none"/>
<ellipse cx="1065.6" cy="1483.2" rx="4.8" ry="3.7" fill="#000" stroke="none"/>
</g>
</svg>
</body></html>
